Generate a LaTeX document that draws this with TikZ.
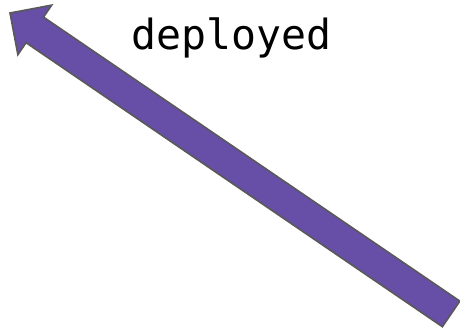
\documentclass[tikz,border=0pt]{standalone}
\usepackage{fontspec}
\newfontfamily\monofont{DejaVu Sans Mono}
\definecolor{arrowpurple}{HTML}{674EA7}
\definecolor{arrowedge}{HTML}{595959}
\tikzset{
  blockarrow/.style={fill=arrowpurple, draw=arrowedge, line width=1.6pt, line join=miter},
  tag/.style={font=\monofont\fontsize{41.5}{41.5}\selectfont, inner sep=0pt}
}
\begin{document}
\begin{tikzpicture}[x=1pt,y=-1pt]
  \useasboundingbox (0,0) rectangle (460,327);
  % block arrow, tip at upper left
  \begin{scope}[shift={(10,13)}, rotate=-34.3]
    \draw[blockarrow] (0,0) -- (30,30) -- (30,15.5) -- (534,15.5) -- (534,-15.5) -- (30,-15.5) -- (30,-30) -- cycle;
  \end{scope}
  \node[tag, anchor=base] (deployed) at (231.5,49) {deployed};
\end{tikzpicture}
\end{document}
